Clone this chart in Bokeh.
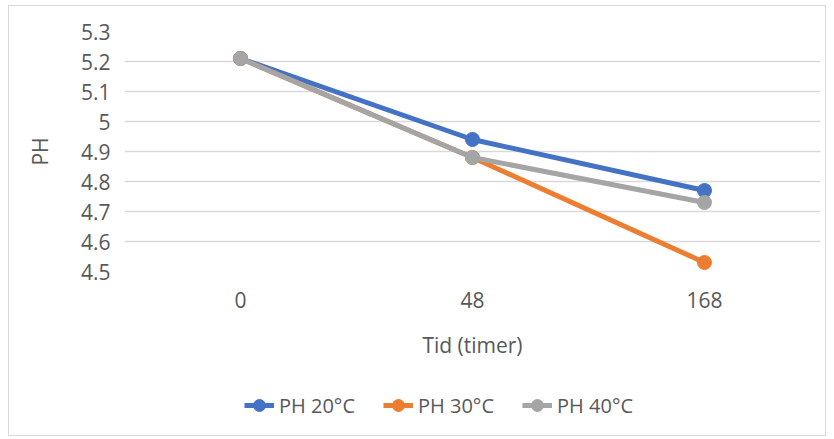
from bokeh.plotting import figure
from bokeh.models import FactorRange, Range1d, FixedTicker, Legend, LegendItem, ColumnDataSource
from bokeh.layouts import column
from bokeh.embed import file_html
from bokeh.resources import INLINE

categories = ["0", "48", "168"]
ph_20 = [5.21, 4.94, 4.77]
ph_30 = [5.21, 4.88, 4.53]
ph_40 = [5.21, 4.88, 4.73]
series_names = ["PH 20°C", "PH 30°C", "PH 40°C"]
colors = ["#4472C4", "#ED7D31", "#A5A5A5"]
y_ticks = [4.5, 4.6, 4.7, 4.8, 4.9, 5.0, 5.1, 5.2, 5.3]
y_tick_labels = ["4.5", "4.6", "4.7", "4.8", "4.9", "5", "5.1", "5.2", "5.3"]

FONT = "Open Sans"
TXT = "#595959"

p = figure(x_range=FactorRange(factors=categories, range_padding=0),
           y_range=Range1d(4.5, 5.3),
           width=816, height=365,
           min_border_left=115, min_border_right=5, min_border_top=25, min_border_bottom=100,
           output_backend="svg", toolbar_location=None)
p.outline_line_color = None
p.background_fill_color = "white"
p.border_fill_color = "white"

p.xgrid.grid_line_color = None
p.ygrid.grid_line_color = "#D9D9D9"
p.ygrid.grid_line_width = 1.5

p.yaxis.ticker = FixedTicker(ticks=y_ticks)
p.yaxis.major_label_overrides = {t: l for t, l in zip(y_ticks, y_tick_labels)}
for ax in (p.xaxis[0], p.yaxis[0]):
    ax.axis_line_color = None
    ax.major_tick_line_color = None
    ax.minor_tick_line_color = None
    ax.major_label_text_font = FONT
    ax.major_label_text_font_size = "21px"
    ax.major_label_text_color = TXT
    ax.axis_label_text_font = FONT
    ax.axis_label_text_font_size = "21px"
    ax.axis_label_text_font_style = "normal"
    ax.axis_label_text_color = TXT
p.yaxis.major_label_standoff = 8
p.yaxis.axis_label = "PH"
p.yaxis.axis_label_standoff = 24
p.xaxis.major_label_standoff = 14
p.xaxis.axis_label = "Tid (timer)"
p.xaxis.axis_label_standoff = 20

for vals, c in zip([ph_20, ph_30, ph_40], colors):
    p.line(categories, vals, line_color=c, line_width=5)
    p.scatter(categories, vals, size=14, fill_color=c, line_color=c)

# legend strip below the chart (its glyphs sit outside the strip's visible range)
lf = figure(width=816, height=64, x_range=Range1d(0, 1), y_range=Range1d(0, 1),
            x_axis_type=None, y_axis_type=None,
            min_border_left=0, min_border_right=0, min_border_top=0, min_border_bottom=0,
            output_backend="svg", toolbar_location=None)
lf.grid.visible = False
lf.outline_line_color = None
lf.border_fill_color = "white"
items = []
for name, c in zip(series_names, colors):
    src = ColumnDataSource(dict(x=[-10, -11], y=[-10, -11]))
    l = lf.line("x", "y", source=src, line_color=c, line_width=5)
    s = lf.scatter("x", "y", source=src, size=14, fill_color=c, line_color=c)
    items.append(LegendItem(label=name, renderers=[l, s]))
legend = Legend(items=items, orientation="horizontal", location=(120, 15),
                label_text_font=FONT, label_text_font_size="20px", label_text_color=TXT,
                glyph_width=30, glyph_height=30, spacing=28, label_standoff=5,
                border_line_color=None, background_fill_alpha=0, padding=4, margin=0)
lf.add_layout(legend, "center")

layout = column(p, lf, spacing=0)
layout.margin = (5, 8, 3, 8)
layout.styles = {"border": "1px solid #D9D9D9"}

open("out.html", "w").write(file_html(layout, INLINE))
